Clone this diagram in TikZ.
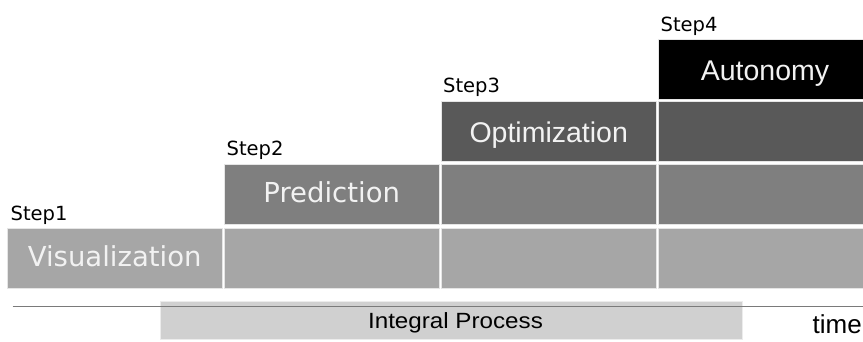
\documentclass[tikz,border=0pt]{standalone}
\usepackage{fontspec}
\setmainfont{DejaVu Sans}
\newfontfamily\arialfont{Liberation Sans}
\definecolor{rowone}{HTML}{A6A6A6}
\definecolor{rowtwo}{HTML}{7F7F7F}
\definecolor{rowthree}{HTML}{595959}
\definecolor{rowfour}{HTML}{000000}
\definecolor{processgray}{HTML}{D0D0D0}
\definecolor{axisgray}{HTML}{7A7A7A}
\tikzset{
  cell/.style={draw=white!80!gray, line width=0.6pt},
  steplabel/.style={anchor=base west, inner sep=0pt, font=\fontsize{19.5}{20}\selectfont},
  phase/.style={anchor=base, inner sep=0pt, text=white!95!black},
}

\begin{document}
\begin{tikzpicture}[x=1pt,y=-1pt]
\useasboundingbox (0,0) rectangle (863,341);

% Blocks, row by row from the bottom
\foreach \r/\ytop/\shade in {1/228.3/rowone,2/164.7/rowtwo,3/101.7/rowthree,4/39.3/rowfour} {
  \foreach \c/\xl/\xr in {1/7.3/222,2/224.3/439,3/441.7/656.7,4/658.3/863} {
    \ifnum\c<\r\relax\else
      \filldraw[cell, fill=\shade] (\xl,\ytop) rectangle (\xr,\ytop+60);
    \fi
  }
}

% Phase names
\node[phase, font=\fontsize{27.5}{28}\selectfont] (vis) at (114.7,266.3) {Visualization};
\node[phase, font=\fontsize{27.5}{28}\selectfont] (pred) at (331.7,202.7) {Prediction};
\node[phase, font=\arialfont\fontsize{28.5}{29}\selectfont] (opt) at (548.7,142.6) {Optimization};
\node[phase, font=\arialfont\fontsize{28.5}{29}\selectfont] (auto) at (765,80) {Autonomy};

% Step labels
\node[steplabel] (step1) at (10.5,220.7) {Step1};
\node[steplabel] (step2) at (226.5,155) {Step2};
\node[steplabel] (step3) at (443,92.3) {Step3};
\node[steplabel] (step4) at (660.5,31) {Step4};

% Integral process bar
\node[fill=processgray, draw=white!85!gray, line width=0.6pt, minimum width=582pt, minimum height=38pt, inner sep=0pt] (process) at (451,320) {};
\node[anchor=base, inner sep=0pt, font=\arialfont\fontsize{22}{23}\selectfont] (processlabel) at (455.5,328.6) {\scalebox{1.1}[1]{Integral Process}};

% Time axis
\coordinate (axisstart) at (12.7,306);
\coordinate (axisend) at (863,306);
\draw[axisgray, line width=1pt] (axisstart) -- (axisend);
\node[anchor=base east, inner sep=0pt, font=\arialfont\fontsize{26}{27}\selectfont] (time) at (862,333.3) {time};

\end{tikzpicture}
\end{document}
